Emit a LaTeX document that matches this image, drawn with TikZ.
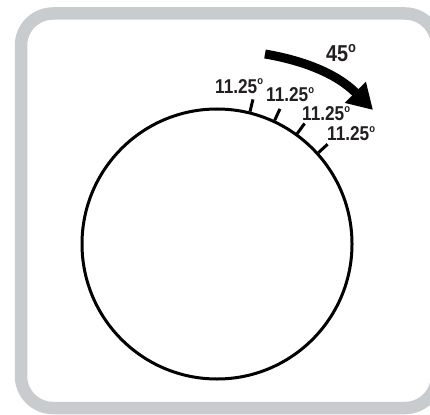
\documentclass[tikz,border=0pt]{standalone}
\usepackage{fontspec}
\newfontfamily\condfont[FakeStretch=0.86]{Liberation Sans}
\usetikzlibrary{arrows.meta}
\definecolor{framegray}{RGB}{201,204,207}
\definecolor{inkdark}{RGB}{35,31,32}
\newcommand{\smalldeg}[2]{\raisebox{#1}{\fontsize{#2}{#2}\selectfont o}}
\begin{document}
\begin{tikzpicture}[x=1pt,y=-1pt,
  anglabel/.style={inner sep=0pt, anchor=base west, text=inkdark,
    font=\condfont\bfseries\fontsize{20}{20}\selectfont},
  biglabel/.style={inner sep=0pt, anchor=base west, text=inkdark,
    font=\condfont\bfseries\fontsize{23}{23}\selectfont},
  ticksty/.style={draw=black, line width=3pt},
  bigarrow/.style={draw=black, line width=9pt, -{Triangle[length=25pt,width=28pt]}}
]
\useasboundingbox (0,0) rectangle (430,414);
\draw[framegray, line width=12.5pt, rounded corners=32pt] (21,13.5) rectangle (437,408);
\node[circle, draw=black, line width=3pt, minimum size=270pt, inner sep=0pt] (dial) at (217,244) {};
\foreach \a in {76.5,65.25,54,42.75}{
  \draw[ticksty] (dial.\a) -- ++(-\a:12.5);
}
\node[anglabel] (l1) at (215,93.3) {11.25\smalldeg{8.5pt}{11}};
\node[anglabel] (l2) at (266,101.7) {11.25\smalldeg{8.5pt}{11}};
\node[anglabel] (l3) at (302,120.7) {11.25\smalldeg{8.5pt}{11}};
\node[anglabel] (l4) at (327,141) {11.25\smalldeg{8.5pt}{11}};
\node[biglabel] (l45) at (326,61.7) {45\smalldeg{9pt}{15}};
\coordinate (arrS) at (265,54);
\coordinate (arrE) at (373,110);
\draw[bigarrow] (arrS) .. controls (300,60) and (335,72) .. (arrE);
\end{tikzpicture}
\end{document}
